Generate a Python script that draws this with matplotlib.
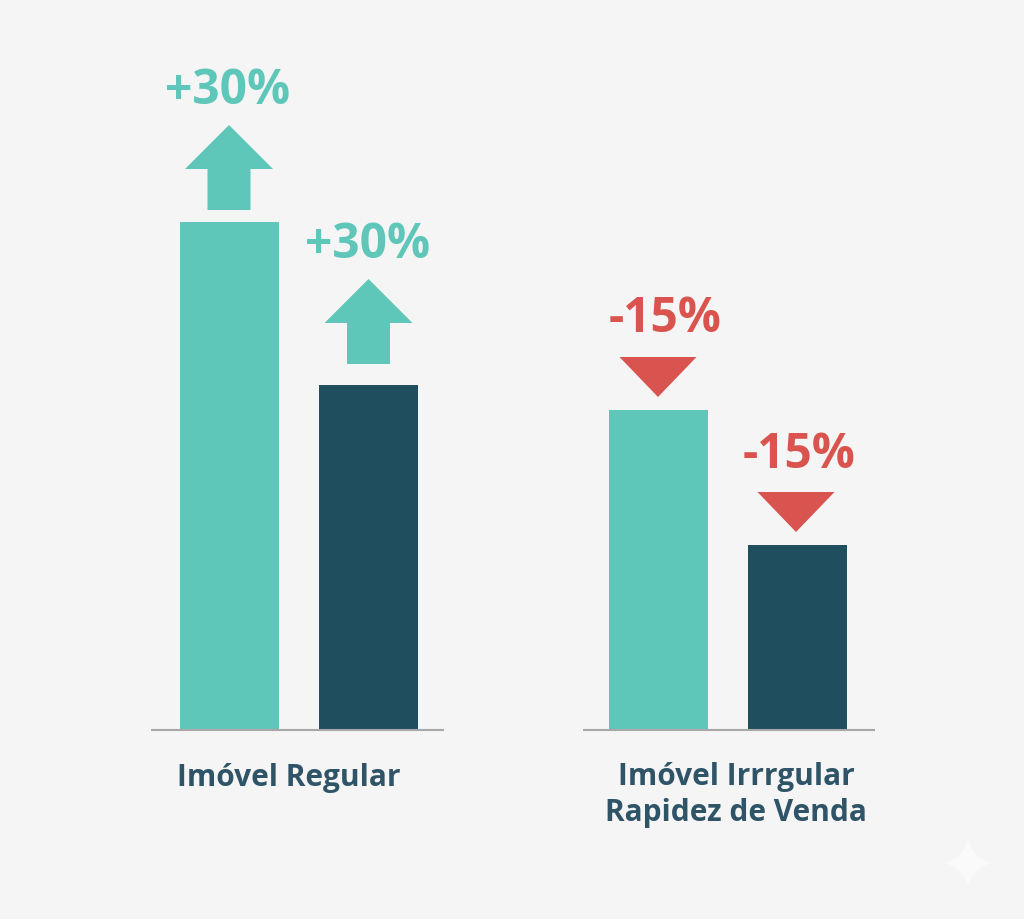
import matplotlib
matplotlib.use("Agg")
import matplotlib.pyplot as plt
from matplotlib.patches import Polygon, PathPatch
from matplotlib.path import Path

# --- DATA ---
groups = ["Imóvel Regular", "Imóvel Irrrgular\nRapidez de Venda"]
values_light = [508, 320]
values_dark = [345, 185]
labels_light = ["+30%", "-15%"]
labels_dark = ["+30%", "-15%"]

# --- STYLE ---
BG = "#f5f5f5"
TEAL = "#5fc7b9"
NAVY = "#1f4e5f"
RED = "#d9544f"
TEXT = "#2f5467"
plt.rcParams["font.family"] = ["Open Sans", "DejaVu Sans"]

light_x = [229.5, 658.5]
dark_x = [368, 797]
bar_w = 99
axis_span = [(151, 444), (583, 875)]
label_x = [288.5, 736]

fig = plt.figure(figsize=(10.24, 9.19), dpi=100, facecolor=BG)
ax = fig.add_axes([0, 0, 1, 1])
ax.set_xlim(0, 1024)
ax.set_ylim(-189, 730)
ax.axis("off")

ax.bar(light_x, values_light, width=bar_w, color=TEAL, zorder=2)
ax.bar(dark_x, values_dark, width=bar_w, color=NAVY, zorder=2)

for x0, x1 in axis_span:
    ax.plot([x0, x1], [0, 0], color="#a8a8a8", lw=1.5, zorder=3, solid_capstyle="butt")


def draw_up(x, bar, gap):
    y0 = bar + gap
    pts = [(x - 21.5, y0), (x - 21.5, y0 + 41), (x - 44, y0 + 41), (x, y0 + 85),
           (x + 44, y0 + 41), (x + 21.5, y0 + 41), (x + 21.5, y0)]
    ax.add_patch(Polygon(pts, closed=True, color=TEAL, lw=0, zorder=2))


def draw_down(x, bar, gap):
    y0 = bar + gap
    pts = [(x, y0), (x - 38.5, y0 + 40), (x + 38.5, y0 + 40)]
    ax.add_patch(Polygon(pts, closed=True, color=RED, lw=0, zorder=2))


# setas e percentuais
draw_up(229, values_light[0], 12)
draw_up(368.5, values_dark[0], 21)
draw_down(658, values_light[1], 13)
draw_down(796, values_dark[1], 13)

text_kw = dict(ha="center", va="center", fontsize=34.5, fontweight="bold")
ax.text(228, values_light[0] + 131, labels_light[0], color=TEAL, **text_kw)
ax.text(368, values_dark[0] + 139, labels_dark[0], color=TEAL, **text_kw)
ax.text(665, values_light[1] + 90, labels_light[1], color=RED, **text_kw)
ax.text(799, values_dark[1] + 90, labels_dark[1], color=RED, **text_kw)

# nomes dos grupos
ax.text(label_x[0], -48, groups[0], color=TEXT, ha="center", va="center",
        fontsize=21.5, fontweight="bold")
ax.text(label_x[1], -65, groups[1], color=TEXT, ha="center", va="center",
        fontsize=21.5, fontweight="bold", linespacing=1.27)

# marca d'agua
cx, cy, r, k = 968, -133, 25, 4
verts = [(cx, cy + r), (cx + k, cy + k), (cx + r, cy), (cx + k, cy - k), (cx, cy - r),
         (cx - k, cy - k), (cx - r, cy), (cx - k, cy + k), (cx, cy + r)]
codes = [Path.MOVETO] + [Path.CURVE3] * 8
ax.add_patch(PathPatch(Path(verts, codes), facecolor="#fafafa", edgecolor="none", zorder=1))

fig.savefig("out.png", dpi=100, facecolor=BG)
